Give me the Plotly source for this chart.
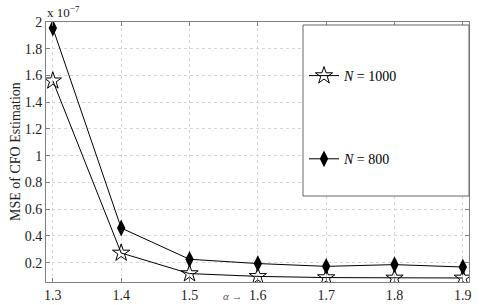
import plotly.graph_objects as go

alpha = [1.3, 1.4, 1.5, 1.6, 1.7, 1.8, 1.9]
mse_n1000 = [1.56, 0.272, 0.118, 0.097, 0.088, 0.085, 0.085]   # x 1e-7
mse_n800 = [1.955, 0.459, 0.225, 0.193, 0.172, 0.185, 0.167]    # x 1e-7
x_ticks = [1.3, 1.4, 1.5, 1.6, 1.7, 1.8, 1.9]
y_ticks = [0.2, 0.4, 0.6, 0.8, 1.0, 1.2, 1.4, 1.6, 1.8, 2.0]
y_tick_text = ["0.2", "0.4", "0.6", "0.8", "1", "1.2", "1.4", "1.6", "1.8", "2"]

FONT = "Liberation Serif"

fig = go.Figure()
fig.add_trace(go.Scatter(
    x=alpha, y=mse_n1000, mode="lines+markers", name="<i>N</i> = 1000",
    legendgroup="a",
    line=dict(color="black", width=1),
    marker=dict(symbol="star-open", size=13, color="black", line=dict(width=1, color="black")),
))
fig.add_trace(go.Scatter(
    x=alpha, y=mse_n800, mode="lines+markers", name="<i>N</i> = 800",
    legendgroup="b",
    line=dict(color="black", width=1),
    marker=dict(symbol="diamond-tall", size=12, color="black"),
))

axis_common = dict(
    showline=True, mirror="ticks", linecolor="#808080", linewidth=1,
    ticks="inside", ticklen=4, tickcolor="#808080",
    showgrid=True, gridcolor="#d8d8d8", griddash="dot", gridwidth=1,
    zeroline=False, automargin=False,
    tickfont=dict(family=FONT, size=14, color="#222"),
)

fig.update_xaxes(range=[1.29, 1.909], tickvals=x_ticks,
                 ticktext=[f"{v:.1f}" for v in x_ticks], **axis_common)
fig.update_yaxes(range=[0.055, 2.0], tickvals=y_ticks, ticktext=y_tick_text, **axis_common)

# legend box
fig.add_shape(type="rect", xref="paper", yref="paper",
              x0=(303 - 46) / 423, x1=1.0, y0=(282 - 196) / 260, y1=(282 - 25) / 260,
              line=dict(color="#666", width=1), fillcolor="white", layer="above")

fig.add_annotation(xref="paper", yref="paper", x=-31 / 423, y=0.5, xanchor="center", yanchor="middle",
                   text="MSE of CFO Estimation", textangle=-90, showarrow=False,
                   font=dict(family=FONT, size=14, color="#222"))
fig.add_annotation(xref="paper", yref="paper", x=-0.002, y=1.0, xanchor="left", yanchor="bottom",
                   text="x 10<sup>−7</sup>", showarrow=False, font=dict(family=FONT, size=13, color="#222"))
fig.add_annotation(xref="paper", yref="paper", x=(233 - 46) / 423, y=(282 - 296) / 260, xanchor="center",
                   yanchor="middle", text="<i>α</i> →", showarrow=False,
                   font=dict(family=FONT, size=11, color="#555"))

fig.update_layout(
    width=485, height=305,
    margin=dict(l=46, r=16, t=22, b=23),
    plot_bgcolor="white", paper_bgcolor="white",
    showlegend=True,
    legend=dict(x=(304 - 46) / 423, y=(282 - 60) / 260, xanchor="left", yanchor="top",
                bgcolor="rgba(0,0,0,0)", borderwidth=0, tracegroupgap=62,
                traceorder="grouped", itemwidth=30,
                font=dict(family=FONT, size=14, color="black")),
)

fig.write_html("out.html", config={"displayModeBar": False},
               post_script="document.body.style.margin='0';document.body.style.overflow='hidden';")
